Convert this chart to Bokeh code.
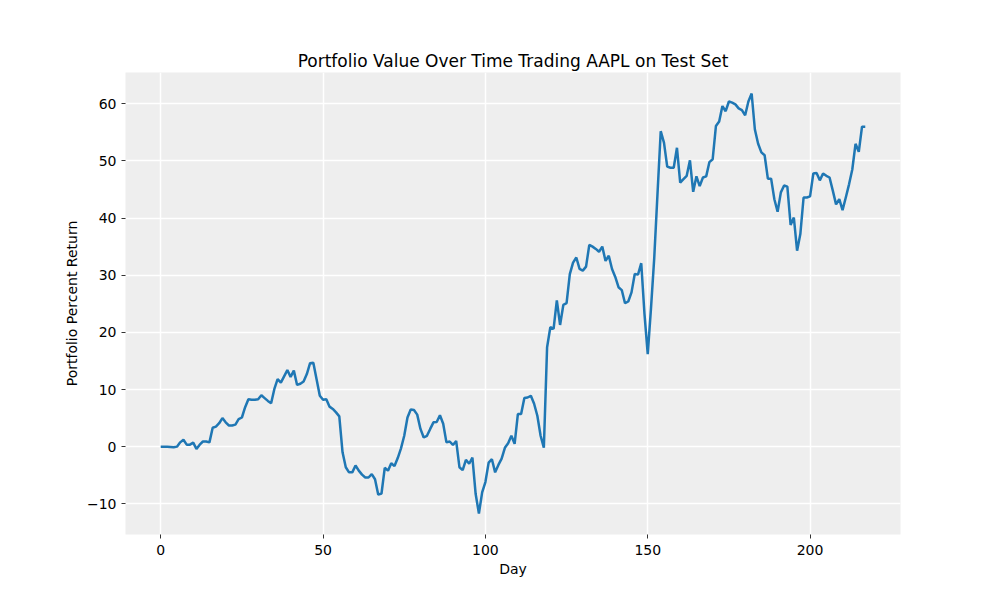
from bokeh.plotting import figure
from bokeh.models import ColumnDataSource, Range1d, FixedTicker, CustomJSTickFormatter
from bokeh.embed import file_html
from bokeh.resources import INLINE

# portfolio percent return per trading day
returns_0_49 = [
    0.0, 0.0, 0.0, -0.05, -0.1, 0.0, 0.75, 1.2, 0.35, 0.35,
    0.7, -0.4, 0.35, 0.9, 0.9, 0.75, 3.3, 3.5, 4.1, 5.0,
    4.25, 3.7, 3.7, 3.85, 4.8, 5.1, 6.9, 8.3, 8.2, 8.2,
    8.3, 9.0, 8.5, 8.0, 7.6, 10.1, 11.8, 11.2, 12.3, 13.4,
    12.2, 13.3, 10.8, 11.0, 11.4, 12.7, 14.6, 14.7, 11.8, 8.9,
]
returns_50_99 = [
    8.2, 8.3, 7.0, 6.6, 6.0, 5.3, -1.0, -3.6, -4.5, -4.5,
    -3.3, -4.2, -4.9, -5.4, -5.4, -4.8, -5.7, -8.4, -8.2, -3.7,
    -4.2, -2.9, -3.4, -2.0, -0.3, 1.9, 5.1, 6.5, 6.4, 5.6,
    3.1, 1.6, 1.9, 3.1, 4.25, 4.3, 5.5, 4.0, 0.75, 0.9,
    0.3, 1.0, -3.6, -4.1, -2.3, -3.0, -1.9, -8.3, -11.7, -8.0,
]
returns_100_149 = [
    -6.2, -2.8, -2.2, -4.5, -3.2, -2.1, -0.2, 0.6, 1.9, 0.5,
    5.7, 5.7, 8.5, 8.6, 8.9, 7.5, 5.4, 1.9, -0.2, 17.4,
    20.9, 20.6, 25.6, 21.3, 24.8, 25.1, 30.2, 32.2, 33.1, 31.1,
    30.8, 31.5, 35.3, 35.0, 34.6, 34.1, 35.0, 32.5, 33.4, 31.1,
    29.7, 27.9, 27.4, 25.1, 25.4, 27.0, 30.2, 30.1, 32.1, 23.2,
]
returns_150_217 = [
    16.2, 24.2, 33.0, 44.2, 55.2, 53.2, 49.0, 48.8, 48.8, 52.3,
    46.2, 46.8, 47.4, 50.1, 44.6, 47.3, 45.6, 47.1, 47.3, 49.8,
    50.3, 56.1, 56.9, 59.6, 58.7, 60.4, 60.2, 59.9, 59.2, 58.9,
    58.0, 60.4, 61.8, 55.5, 53.0, 51.5, 51.0, 46.9, 46.9, 43.3,
    41.1, 44.5, 45.7, 45.5, 38.8, 40.1, 34.3, 37.2, 43.6, 43.6,
    43.8, 47.8, 47.9, 46.6, 47.8, 47.4, 47.1, 44.8, 42.4, 43.3,
    41.4, 43.6, 45.9, 48.5, 53.0, 51.6, 56.0, 56.0,
]
portfolio_return = returns_0_49 + returns_50_99 + returns_100_149 + returns_150_217
days = list(range(len(portfolio_return)))

x_ticks = [0, 50, 100, 150, 200]
y_ticks = [-10, 0, 10, 20, 30, 40, 50, 60]

source = ColumnDataSource(data={'day': days, 'ret': portfolio_return})

# matplotlib style 5% margins
x_pad = (max(days) - min(days)) * 0.05
y_pad = (max(portfolio_return) - min(portfolio_return)) * 0.05

p = figure(
    width=984, height=584,
    title="Portfolio Value Over Time Trading AAPL on Test Set",
    x_axis_label="Day",
    y_axis_label="Portfolio Percent Return",
    x_range=Range1d(min(days) - x_pad, max(days) + x_pad),
    y_range=Range1d(min(portfolio_return) - y_pad, max(portfolio_return) + y_pad),
    output_backend="svg",
    toolbar_location=None,
    min_border_left=125, min_border_right=84,
    min_border_top=72, min_border_bottom=50,
)

p.line(x='day', y='ret', source=source, color='#1f77b4', line_width=2.5)

p.background_fill_color = "#eeeeee"
p.border_fill_color = "white"
p.outline_line_color = None

p.title.text_font = "DejaVu Sans"
p.title.text_font_size = "17px"
p.title.text_font_style = "normal"
p.title.align = "center"
p.title.text_color = "black"
p.title.standoff = 4

minus_fmt = CustomJSTickFormatter(code="return tick.toString().replace('-', '\u2212');")

for ax in (p.xaxis, p.yaxis):
    ax.axis_line_color = None
    ax.minor_tick_line_color = None
    ax.major_tick_in = 0
    ax.major_tick_out = 4
    ax.major_tick_line_color = "#333333"
    ax.major_tick_line_width = 1
    ax.major_label_text_font = "DejaVu Sans"
    ax.major_label_text_font_size = "14px"
    ax.major_label_text_color = "black"
    ax.axis_label_text_font = "DejaVu Sans"
    ax.axis_label_text_font_size = "14px"
    ax.axis_label_text_font_style = "normal"
    ax.axis_label_text_color = "black"
    ax.formatter = minus_fmt

p.xaxis.ticker = FixedTicker(ticks=x_ticks)
p.yaxis.ticker = FixedTicker(ticks=y_ticks)
p.xaxis.major_label_standoff = 6
p.yaxis.major_label_standoff = 5
p.xaxis.axis_label_standoff = 3
p.yaxis.axis_label_standoff = 4

p.xgrid.grid_line_color = "white"
p.ygrid.grid_line_color = "white"
p.xgrid.grid_line_width = 1.5
p.ygrid.grid_line_width = 1.5

open("out.html", "w").write(file_html(p, INLINE))
